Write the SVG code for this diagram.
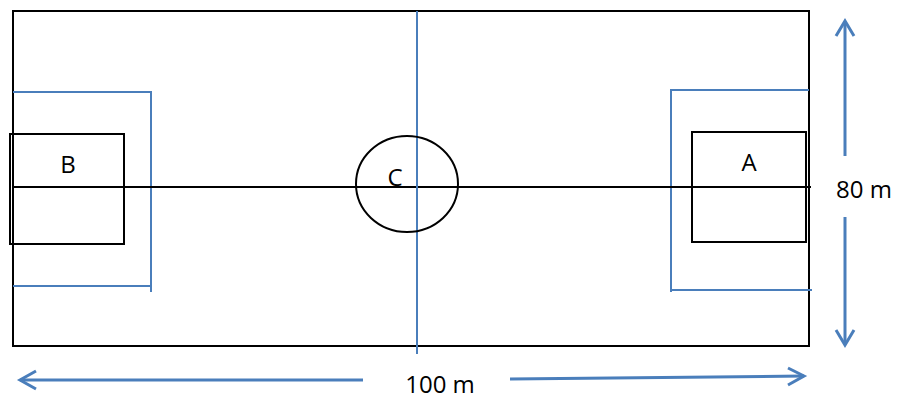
<svg xmlns="http://www.w3.org/2000/svg" width="900" height="401" viewBox="0 0 900 401">
<style>
.blk{fill:none;stroke:#000;stroke-width:2}
.blu{fill:none;stroke:#4a7ebb;stroke-width:2}
.arr{fill:none;stroke:#4a7ebb;stroke-width:3}
text{font-family:"Open Sans","Liberation Sans",sans-serif;font-size:24px;fill:#000;text-anchor:middle}
</style>
<rect width="900" height="401" fill="#fff"/>
<g id="field"><rect class="blk" x="13" y="11" width="796" height="335"/></g>
<g id="penaltyB"><polyline class="blu" points="13,92 151,92 151,292"/><line class="blu" x1="13" y1="286" x2="151" y2="286"/></g>
<g id="penaltyA"><polyline class="blu" points="809,90 671,90 671,292"/><line class="blu" x1="671" y1="290" x2="812" y2="290"/></g>
<g id="connectors">
<line class="blk" x1="13" y1="187" x2="811" y2="187"/>
<line class="blu" x1="417" y1="11" x2="417" y2="354"/>
</g>
<g id="B"><rect class="blk" x="10" y="134" width="114" height="110"/><text x="68" y="173">B</text></g>
<g id="A"><rect class="blk" x="692" y="132" width="114" height="110"/><text x="749" y="171">A</text></g>
<g id="C"><ellipse class="blk" cx="407" cy="184" rx="51" ry="48"/><text x="395" y="186">C</text></g>
<g id="dim80">
<line class="arr" x1="845" y1="22" x2="845" y2="156"/>
<polyline class="arr" points="836,36 845,21 854,36"/>
<line class="arr" x1="845" y1="217" x2="845" y2="344"/>
<polyline class="arr" points="836,330 845,345 854,330"/>
<text x="864" y="198">80 m</text>
</g>
<g id="dim100">
<line class="arr" x1="20" y1="380" x2="363" y2="380"/>
<polyline class="arr" points="36,371 20,380 36,389"/>
<line class="arr" x1="510" y1="379" x2="804" y2="376"/>
<polyline class="arr" points="788,368 804,376 788,385"/>
<text x="440" y="393">100 m</text>
</g>
</svg>
